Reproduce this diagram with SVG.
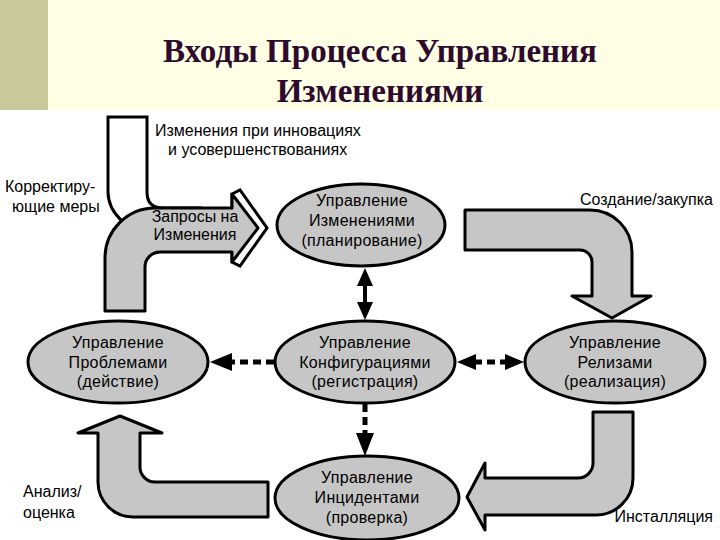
<svg xmlns="http://www.w3.org/2000/svg" width="720" height="540" viewBox="0 0 720 540">
<defs>
<style>
.shape{fill:#c6c6c6;stroke:#000;stroke-width:3;stroke-linejoin:round}
.node{fill:#c6c6c6;stroke:#000;stroke-width:3}
.t{font-family:"Liberation Sans","DejaVu Sans",sans-serif;font-size:16px;fill:#000}
.c{text-anchor:middle;letter-spacing:0.3px}
.title{font-family:"Liberation Serif","DejaVu Serif",serif;font-weight:bold;font-size:33px;fill:#2e0b2e;text-anchor:middle}
.dash{stroke:#000;stroke-width:5;stroke-dasharray:8 5;fill:none}
.head{fill:#000}
</style>
</defs>
<rect x="0" y="0" width="720" height="540" fill="#fff"/>
<rect x="0" y="0" width="720" height="110" fill="#ffffe6"/>
<rect x="0" y="0" width="48" height="110" fill="#c9c99c"/>
<text class="title" x="380" y="62">Входы Процесса Управления</text>
<text class="title" x="380" y="102">Изменениями</text>

<g id="arrow-requests">
<path d="M108,117 H147 V192 Q147,208 163,208 H200 V240 H130 L122,221 Q108,208 108,192 Z" fill="#fff" stroke="#000" stroke-width="3"/>
<path d="M232,194 L240,190 L267,228 L240,266 L232,262 Z" fill="#fff" stroke="#000" stroke-width="3" stroke-linejoin="miter"/>
<path class="shape" d="M105,311 V258 A50,50 0 0 1 155,208 H232 V194 L258,228 L232,262 V252 H160 A15,15 0 0 0 145,267 V311 Z"/>
<text class="t" x="195" y="222" text-anchor="middle" font-size="13">Запросы на</text>
<text class="t" x="195" y="240" text-anchor="middle" font-size="13">Изменения</text>
</g>
<g id="arrow-create">
<path class="shape" d="M465,210 H590 A42,42 0 0 1 632,252 V296 H651 L612,318 L572,296 H592 V262 A12,12 0 0 0 580,250 H465 Z"/>
</g>
<g id="arrow-install">
<path class="shape" d="M593,412 H633 V478 A37,37 0 0 1 596,515 H485 V530 L467,497 L485,463 V478 H578 A15,15 0 0 0 593,463 Z"/>
</g>
<g id="arrow-analysis">
<path class="shape" d="M268,482 H155 A15,15 0 0 1 140,467 V433 H162 L120,416 L78,433 H98 V482 A35,35 0 0 0 133,517 H268 Z"/>
</g>

<g id="connectors">
<rect x="363" y="284" width="4" height="20" fill="#000"/>
<polygon class="head" points="365,268 373,286 357,286"/>
<polygon class="head" points="365,320 373,302 357,302"/>
<line class="dash" x1="365" y1="404" x2="365" y2="436"/>
<polygon class="head" points="365,456 374,433 356,433"/>
<line class="dash" x1="274" y1="362" x2="229" y2="362"/>
<polygon class="head" points="210,362 232,353 232,371"/>
<line class="dash" x1="474" y1="362" x2="508" y2="362"/>
<polygon class="head" points="457,362 476,354 476,370"/>
<polygon class="head" points="524,362 505,354 505,370"/>
</g>

<g id="node-change">
<ellipse class="node" cx="361" cy="225" rx="84" ry="41"/>
<text class="t c" x="362" y="206">Управление</text>
<text class="t c" x="362" y="226">Изменениями</text>
<text class="t c" x="362" y="246">(планирование)</text>
</g>
<g id="node-problem">
<ellipse class="node" cx="118" cy="362" rx="90" ry="41"/>
<text class="t c" x="118" y="348">Управление</text>
<text class="t c" x="118" y="368">Проблемами</text>
<text class="t c" x="118" y="387">(действие)</text>
</g>
<g id="node-config">
<ellipse class="node" cx="365" cy="362" rx="90" ry="41"/>
<text class="t c" x="365" y="348">Управление</text>
<text class="t c" x="365" y="368">Конфигурациями</text>
<text class="t c" x="365" y="387">(регистрация)</text>
</g>
<g id="node-release">
<ellipse class="node" cx="615" cy="362" rx="90" ry="41"/>
<text class="t c" x="615" y="348">Управление</text>
<text class="t c" x="615" y="368">Релизами</text>
<text class="t c" x="615" y="387">(реализация)</text>
</g>
<g id="node-incident">
<ellipse class="node" cx="367" cy="498" rx="92" ry="42"/>
<text class="t c" x="367" y="483">Управление</text>
<text class="t c" x="367" y="503">Инцидентами</text>
<text class="t c" x="367" y="523">(проверка)</text>
</g>

<g id="labels">
<text class="t" x="155" y="136">Изменения при инновациях</text>
<text class="t" x="168" y="155">и усовершенствованиях</text>
<text class="t" x="5" y="192">Корректиру-</text>
<text class="t" x="12" y="212">ющие меры</text>
<text class="t" x="713" y="205" text-anchor="end">Создание/закупка</text>
<text class="t" x="713" y="522" text-anchor="end">Инсталляция</text>
<text class="t" x="23" y="497">Анализ/</text>
<text class="t" x="23" y="518">оценка</text>
</g>
</svg>
